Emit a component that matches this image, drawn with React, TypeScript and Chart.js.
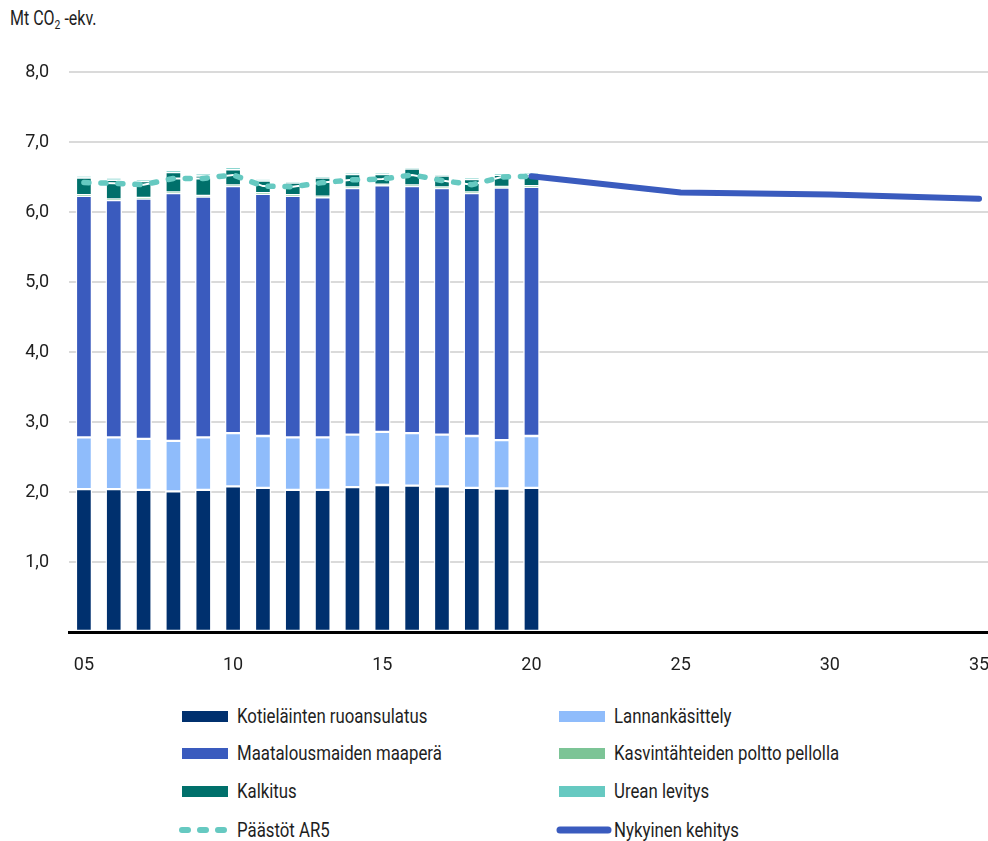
import { useEffect, useRef } from 'react';
import { Chart, registerables } from 'chart.js';

Chart.register(...registerables);

// Years with inventory bars (2005–2020)
const barYears = [2005, 2006, 2007, 2008, 2009, 2010, 2011, 2012, 2013, 2014, 2015, 2016, 2017, 2018, 2019, 2020];

// Emissions by source, Mt CO2-eq.
const kotielaintenRuoansulatus = [2.04, 2.04, 2.03, 2.01, 2.03, 2.08, 2.06, 2.03, 2.03, 2.07, 2.10, 2.09, 2.08, 2.06, 2.05, 2.06];
const lannankasittely = [0.74, 0.74, 0.73, 0.72, 0.75, 0.76, 0.74, 0.75, 0.75, 0.75, 0.76, 0.75, 0.74, 0.74, 0.69, 0.74];
const maatalousmaidenMaapera = [3.45, 3.39, 3.43, 3.54, 3.44, 3.53, 3.46, 3.45, 3.43, 3.52, 3.52, 3.53, 3.52, 3.47, 3.61, 3.56];
const kasvintahteidenPoltto = [0.01, 0.01, 0.01, 0.01, 0.01, 0.01, 0.01, 0.01, 0.01, 0.01, 0.01, 0.01, 0.01, 0.01, 0.01, 0.01];
const kalkitus = [0.25, 0.28, 0.24, 0.29, 0.29, 0.23, 0.18, 0.18, 0.27, 0.19, 0.15, 0.24, 0.17, 0.19, 0.17, 0.17];
const ureanLevitys = [0.02, 0.02, 0.02, 0.02, 0.02, 0.02, 0.01, 0.01, 0.01, 0.01, 0.01, 0.01, 0.01, 0.01, 0.01, 0.01];

// Total emissions with AR5 GWP values
const paastotAR5 = [6.42, 6.41, 6.39, 6.48, 6.48, 6.53, 6.37, 6.36, 6.42, 6.46, 6.47, 6.53, 6.45, 6.39, 6.50, 6.51];

// Current-trajectory projection
const trendYears = [2020, 2025, 2030, 2035];
const nykyinenKehitys = [6.51, 6.28, 6.25, 6.19];

// Axis ticks
const xTickYears = [2005, 2010, 2015, 2020, 2025, 2030, 2035];
const yTickValues = [0, 1, 2, 3, 4, 5, 6, 7, 8];

const FONT_FAMILY = 'Roboto, "Liberation Sans", sans-serif';
const TEXT_COLOR = '#1e1e1e';
const TEXT_SQUEEZE = 0.8;

const COLORS = {
  koti: '#00306e',
  lanta: '#8fbcfb',
  maapera: '#3a5bbe',
  kasvi: '#7cc496',
  kalkitus: '#00706b',
  urea: '#66c9c1',
  ar5: '#66c9c1',
  trend: '#3a5bbe',
};

const points = (xs: number[], ys: number[]) => xs.map((x, i) => ({ x, y: ys[i] }));

const barDataset = (label: string, values: number[], color: string) => ({
  type: 'bar' as const,
  label,
  data: points(barYears, values),
  backgroundColor: color,
  borderColor: 'rgba(255,255,255,0.9)',
  borderWidth: 1.5,
  borderSkipped: false,
  barThickness: 16,
  stack: 'sources',
  order: 3,
});

const legendItems = [
  { label: 'Kotieläinten ruoansulatus', kind: 'box', color: COLORS.koti, col: 0, row: 0 },
  { label: 'Lannankäsittely', kind: 'box', color: COLORS.lanta, col: 1, row: 0 },
  { label: 'Maatalousmaiden maaperä', kind: 'box', color: COLORS.maapera, col: 0, row: 1 },
  { label: 'Kasvintähteiden poltto pellolla', kind: 'box', color: COLORS.kasvi, col: 1, row: 1 },
  { label: 'Kalkitus', kind: 'box', color: COLORS.kalkitus, col: 0, row: 2 },
  { label: 'Urean levitys', kind: 'box', color: COLORS.urea, col: 1, row: 2 },
  { label: 'Päästöt AR5', kind: 'dash', color: COLORS.ar5, col: 0, row: 3 },
  { label: 'Nykyinen kehitys', kind: 'line', color: COLORS.trend, col: 1, row: 3 },
];

const legendRowCenters = [716, 753, 791, 830];
const legendSwatchLeft = [182, 559];
const legendTextLeft = [237, 614];

function Squeezed({ children, size }: { children: any; size: number }) {
  return (
    <span
      style={{
        display: 'inline-block',
        fontSize: size,
        transform: `scaleX(${TEXT_SQUEEZE})`,
        transformOrigin: 'left center',
        whiteSpace: 'nowrap',
      }}
    >
      {children}
    </span>
  );
}

function LegendSwatch({ kind, color }: { kind: string; color: string }) {
  if (kind === 'box') {
    return <div style={{ width: 46, height: 11, background: color }} />;
  }
  if (kind === 'dash') {
    return (
      <svg width={52} height={12} style={{ display: 'block' }}>
        <line x1={3} y1={6} x2={50} y2={6} stroke={color} strokeWidth={6} strokeLinecap="round" strokeDasharray="6 12" />
      </svg>
    );
  }
  return (
    <svg width={56} height={12} style={{ display: 'block' }}>
      <line x1={4} y1={6} x2={52} y2={6} stroke={color} strokeWidth={7} strokeLinecap="round" />
    </svg>
  );
}

export default function App() {
  const canvasRef = useRef<HTMLCanvasElement | null>(null);

  useEffect(() => {
    const canvas = canvasRef.current;
    if (!canvas) return;
    const font = { family: FONT_FAMILY, size: 18 };

    const chart = new Chart(canvas, {
      type: 'bar',
      data: {
        datasets: [
          barDataset('Kotieläinten ruoansulatus', kotielaintenRuoansulatus, COLORS.koti),
          barDataset('Lannankäsittely', lannankasittely, COLORS.lanta),
          barDataset('Maatalousmaiden maaperä', maatalousmaidenMaapera, COLORS.maapera),
          barDataset('Kasvintähteiden poltto pellolla', kasvintahteidenPoltto, COLORS.kasvi),
          barDataset('Kalkitus', kalkitus, COLORS.kalkitus),
          barDataset('Urean levitys', ureanLevitys, COLORS.urea),
          {
            type: 'line' as const,
            label: 'Päästöt AR5 (pohja)',
            data: points(barYears, paastotAR5),
            borderColor: '#ffffff',
            borderWidth: 2,
            pointRadius: 0,
            tension: 0,
            stack: 'ar5-base',
            order: 1,
          },
          {
            type: 'line' as const,
            label: 'Päästöt AR5',
            data: points(barYears, paastotAR5),
            borderColor: COLORS.ar5,
            borderWidth: 5.5,
            borderDash: [5, 12],
            borderCapStyle: 'round',
            pointRadius: 0,
            tension: 0,
            stack: 'ar5',
            order: 0,
          },
          {
            type: 'line' as const,
            label: 'Nykyinen kehitys',
            data: points(trendYears, nykyinenKehitys),
            borderColor: COLORS.trend,
            borderWidth: 6,
            borderCapStyle: 'round',
            borderJoinStyle: 'round',
            pointRadius: 0,
            tension: 0,
            stack: 'trend',
            order: -1,
          },
        ] as any,
      },
      options: {
        responsive: false,
        maintainAspectRatio: false,
        animation: false,
        layout: { padding: { top: 72, right: 0, bottom: 0, left: 0 } },
        plugins: {
          legend: { display: false },
          tooltip: { enabled: false },
        },
        scales: {
          x: {
            type: 'linear',
            stacked: true,
            min: 2004.5,
            max: 2035.3,
            offset: false,
            grid: { display: false, drawTicks: false },
            border: { display: true, color: '#000000', width: 3, z: 1 },
            afterBuildTicks: (axis: any) => {
              axis.ticks = xTickYears.map((v) => ({ value: v }));
            },
            afterFit: (scale: any) => {
              scale.height = 58;
              scale.paddingLeft = 0;
              scale.paddingRight = 0;
            },
            ticks: {
              font,
              color: TEXT_COLOR,
              padding: 23,
              maxRotation: 0,
              autoSkip: false,
              callback: (v: any) => String(v).slice(2),
            },
          },
          y: {
            stacked: true,
            min: 0,
            max: 8,
            afterBuildTicks: (axis: any) => {
              axis.ticks = yTickValues.map((v) => ({ value: v }));
            },
            afterFit: (scale: any) => {
              scale.width = 69;
              scale.paddingTop = 0;
              scale.paddingBottom = 0;
            },
            grid: {
              drawTicks: false,
              color: (ctx: any) => (ctx.tick && ctx.tick.value === 0 ? 'rgba(0,0,0,0)' : '#dadada'),
              lineWidth: 2,
            },
            border: { display: false },
            ticks: {
              font,
              color: TEXT_COLOR,
              padding: 20,
              callback: (v: any) => (Number(v) === 0 ? '' : Number(v).toFixed(1).replace('.', ',')),
            },
          },
        },
      } as any,
    });

    return () => chart.destroy();
  }, []);

  return (
    <div
      style={{
        position: 'fixed',
        left: 0,
        top: 0,
        width: 988,
        height: 841,
        background: '#ffffff',
        fontFamily: FONT_FAMILY,
        color: TEXT_COLOR,
        overflow: 'hidden',
      }}
    >
      <div style={{ position: 'absolute', left: 10, top: 6, lineHeight: '24px' }}>
        <Squeezed size={20}>
          Mt CO<sub style={{ fontSize: 13, verticalAlign: -4 }}>2</sub> -ekv.
        </Squeezed>
      </div>
      <canvas
        ref={canvasRef}
        width={988}
        height={690}
        style={{ position: 'absolute', left: 0, top: 0, width: 988, height: 690 }}
      />
      {legendItems.map((item) => {
        const cy = legendRowCenters[item.row];
        return (
          <div key={item.label}>
            <div
              style={{
                position: 'absolute',
                left: legendSwatchLeft[item.col] - (item.kind === 'box' ? 0 : 3),
                top: cy - (item.kind === 'box' ? 5.5 : 6),
              }}
            >
              <LegendSwatch kind={item.kind} color={item.color} />
            </div>
            <div
              style={{
                position: 'absolute',
                left: legendTextLeft[item.col],
                top: cy - 12,
                height: 24,
                lineHeight: '24px',
              }}
            >
              <Squeezed size={21}>{item.label}</Squeezed>
            </div>
          </div>
        );
      })}
    </div>
  );
}
